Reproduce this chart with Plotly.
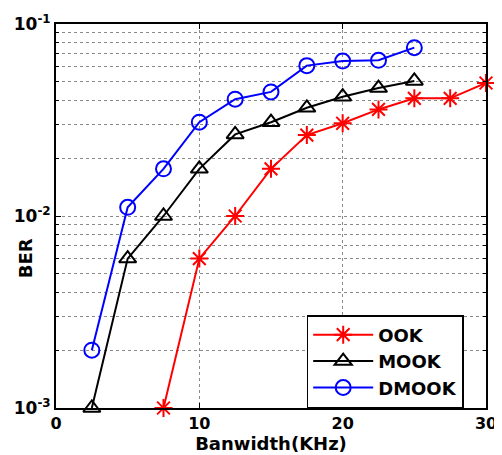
import plotly.graph_objects as go

ook_x = [7.5, 10, 12.5, 15, 17.5, 20, 22.5, 25, 27.5, 30]
ook_y = [0.001, 0.006, 0.010, 0.0176, 0.0264, 0.0304, 0.0359, 0.041, 0.041, 0.0493]

mook_x = [2.5, 5, 7.5, 10, 12.5, 15, 17.5, 20, 22.5, 25]
mook_y = [0.001, 0.006, 0.010, 0.0176, 0.0266, 0.0308, 0.0366, 0.0418, 0.0464, 0.0505]

dmook_x = [2.5, 5, 7.5, 10, 12.5, 15, 17.5, 20, 22.5, 25]
dmook_y = [0.002, 0.0111, 0.0176, 0.0308, 0.0406, 0.0443, 0.0607, 0.0641, 0.0647, 0.0753]

y_tickvals = [0.001, 0.01, 0.1]
y_ticktext = ["10<sup>-3</sup>", "10<sup>-2</sup>", "10<sup>-1</sup>"]
x_tickvals = [0, 10, 20, 30]

minor_vals = [k * 10.0**e for e in (-3, -2) for k in range(2, 10)]

FONT = "DejaVu Sans, Arial, sans-serif"

fig = go.Figure()
fig.add_trace(go.Scatter(
    x=ook_x, y=ook_y, name="<b>OOK</b>", mode="lines+markers", cliponaxis=False,
    line=dict(color="#ff0000", width=2),
    marker=dict(symbol="asterisk-open", size=15, color="#ff0000",
                line=dict(color="#ff0000", width=2)),
))
fig.add_trace(go.Scatter(
    x=mook_x, y=mook_y, name="<b>MOOK</b>", mode="lines+markers", cliponaxis=False,
    line=dict(color="#000000", width=2),
    marker=dict(symbol="triangle-up-open", size=15, color="#000000",
                line=dict(color="#000000", width=2)),
))
fig.add_trace(go.Scatter(
    x=dmook_x, y=dmook_y, name="<b>DMOOK</b>", mode="lines+markers", cliponaxis=False,
    line=dict(color="#0000ff", width=2),
    marker=dict(symbol="circle-open", size=15, color="#0000ff",
                line=dict(color="#0000ff", width=2)),
))

fig.update_layout(
    width=494, height=447,
    margin=dict(l=48, r=16, t=16, b=47),
    paper_bgcolor="white", plot_bgcolor="white",
    font=dict(family=FONT, size=16, color="black"),
    showlegend=True,
    legend=dict(
        x=0.583, y=0, xanchor="left", yanchor="bottom",
        bgcolor="white", bordercolor="black", borderwidth=1.5,
        font=dict(family=FONT, size=18, color="black"),
        itemwidth=60, tracegroupgap=0,
    ),
    xaxis=dict(
        range=[0, 30], tickvals=x_tickvals,
        ticktext=["<b>%d</b>" % v for v in x_tickvals],
        showline=True, linecolor="black", linewidth=2, mirror="allticks",
        ticks="inside", ticklen=5, tickcolor="black",
        showgrid=True, gridcolor="#8a8a8a", griddash="dot", gridwidth=1,
        zeroline=False, automargin=False,
        title=dict(text="<b>Banwidth(KHz)</b>", font=dict(size=18), standoff=2),
        tickfont=dict(size=16),
    ),
    yaxis=dict(
        type="log", range=[-3, -1],
        tickvals=y_tickvals, ticktext=["<b>%s</b>" % t for t in y_ticktext],
        showline=True, linecolor="black", linewidth=2, mirror="allticks",
        ticks="inside", ticklen=5, tickcolor="black",
        showgrid=True, gridcolor="#8a8a8a", griddash="dot", gridwidth=1,
        zeroline=False, automargin=False,
        tickfont=dict(size=17),
        minor=dict(tickmode="array", tickvals=minor_vals, ticks="inside", ticklen=3,
                   tickcolor="black", showgrid=True, gridcolor="#8a8a8a",
                   griddash="dot", gridwidth=1),
    ),
    annotations=[dict(
        text="<b>BER</b>", textangle=-90, xref="paper", yref="paper",
        x=-0.072, y=0.39, xanchor="center", yanchor="middle", showarrow=False,
        font=dict(family=FONT, size=18, color="black"),
    )],
)

fig.write_html("out.html")
